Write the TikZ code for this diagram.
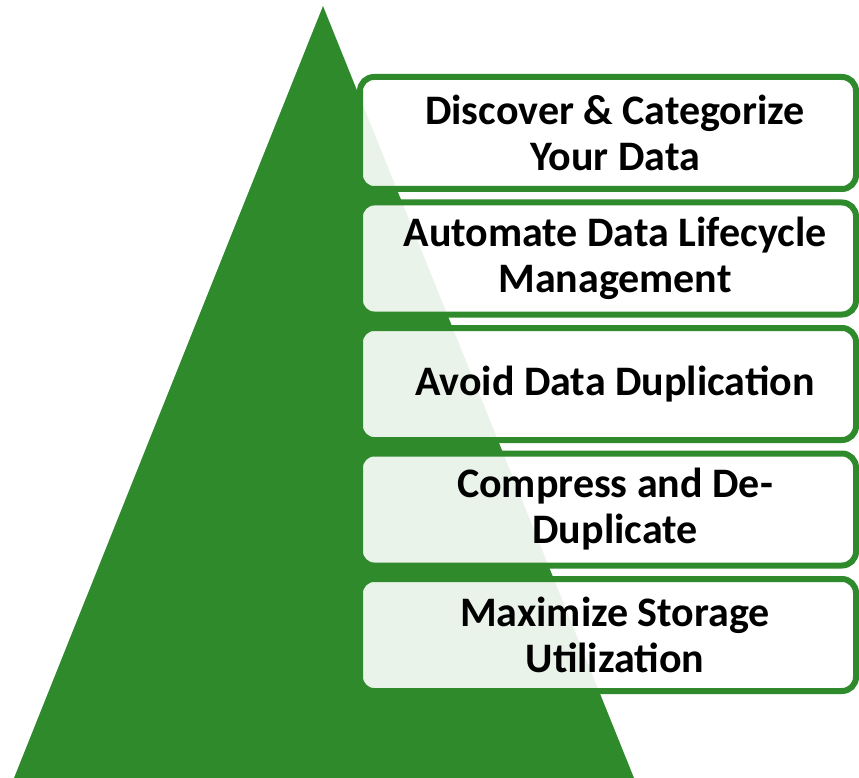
\documentclass[tikz,border=0pt]{standalone}
\usepackage{fontspec}
\setmainfont{Carlito}
\definecolor{pyrgreen}{RGB}{47,138,44}
\begin{document}
\begin{tikzpicture}[x=1pt,y=-1pt,
  stepbox/.style={draw=pyrgreen, line width=6pt, rounded corners=14pt, fill=white, fill opacity=0.9, text opacity=1},
  steptext/.style={font=\fontsize{42}{46}\selectfont\bfseries, align=center, text=black, inner sep=0pt}]
\useasboundingbox (0,0) rectangle (859,778);
\fill[pyrgreen] (323,6) -- (634,778) -- (14,778) -- cycle;
\foreach \t [count=\i] in {77,202.5,328,453.5,579}{
  \draw[stepbox] (360,\t) rectangle (856,\t+112);
}
\node[steptext] (s1) at (615,133) {Discover \& Categorize\\Your Data};
\node[steptext] (s2) at (615,258.5) {Automate Data Lifecycle\\Management};
\node[steptext] (s3) at (615,384) {Avoid Data Duplication};
\node[steptext] (s4) at (615,509.5) {Compress and De-\\Duplicate};
\node[steptext] (s5) at (615,635) {Maximize Storage\\Utilization};
\end{tikzpicture}
\end{document}
